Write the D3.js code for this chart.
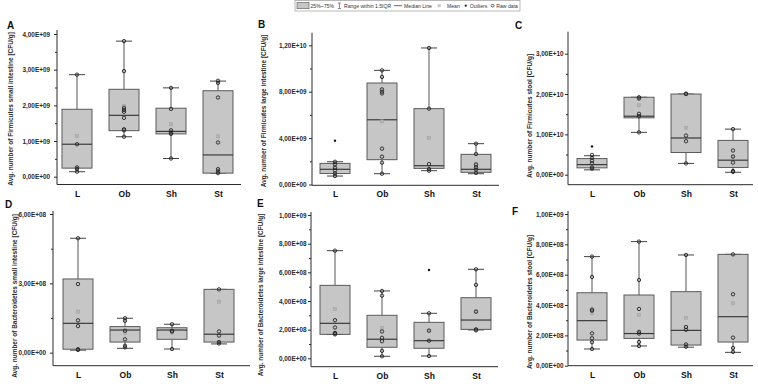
<!DOCTYPE html>
<html><head><meta charset="utf-8">
<script src="https://cdn.jsdelivr.net/npm/d3@7"></script>
<style>
body{margin:0;background:#fff}
svg{display:block;font-family:"Liberation Sans",Arial,Helvetica,sans-serif}
</style>
</head><body>
<svg id="chart" width="758" height="384"></svg>
<script>
const categories = ["L", "Ob", "Sh", "St"];

// box statistics per category: [whiskerLow, q1, median, q3, whiskerHigh, mean]
const firmSmallStats = [[0.14e9,0.24e9,0.91e9,1.89e9,2.86e9,1.14e9],[1.12e9,1.29e9,1.72e9,2.45e9,3.80e9,1.98e9],[0.51e9,1.20e9,1.27e9,1.92e9,2.49e9,1.47e9],[0.10e9,0.10e9,0.61e9,2.41e9,2.68e9,1.13e9]];
const firmSmallRaw = [[2.86e9,0.91e9,0.26e9,0.22e9,0.14e9],[3.80e9,2.96e9,1.93e9,1.87e9,1.82e9,1.65e9,1.33e9,1.30e9,1.12e9],[2.49e9,1.90e9,1.30e9,1.24e9,1.20e9,0.51e9],[2.69e9,2.63e9,2.22e9,0.96e9,0.21e9,0.15e9,0.10e9]];
const firmSmallOut = [[],[],[],[]];

const firmLargeStats = [[0.73e9,0.95e9,1.31e9,1.82e9,1.96e9,1.60e9],[0.93e9,2.14e9,5.58e9,8.75e9,9.84e9,5.44e9],[1.19e9,1.39e9,1.62e9,6.54e9,11.77e9,4.01e9],[0.93e9,1.05e9,1.31e9,2.60e9,3.52e9,1.75e9]];
const firmLargeRaw = [[1.96e9,1.73e9,1.44e9,1.21e9,0.95e9,0.73e9],[9.84e9,9.27e9,8.20e9,8.00e9,7.85e9,3.09e9,2.40e9,1.88e9,0.93e9],[11.77e9,6.54e9,1.76e9,1.33e9,1.19e9],[3.52e9,2.63e9,1.72e9,1.49e9,1.29e9,1.00e9]];
const firmLargeOut = [[3.78e9],[],[],[]];

const firmStoolStats = [[0.12e10,0.17e10,0.25e10,0.40e10,0.47e10,0.30e10],[1.05e10,1.41e10,1.45e10,1.92e10,1.92e10,1.72e10],[0.28e10,0.55e10,0.91e10,2.00e10,2.00e10,1.16e10],[0.06e10,0.18e10,0.36e10,0.85e10,1.13e10,0.45e10]];
const firmStoolRaw = [[0.49e10,0.42e10,0.35e10,0.28e10,0.18e10,0.15e10],[1.92e10,1.89e10,1.51e10,1.45e10,1.05e10],[2.01e10,2.00e10,0.97e10,0.83e10,0.28e10],[1.13e10,0.60e10,0.45e10,0.30e10,0.09e10,0.07e10]];
const firmStoolOut = [[0.70e10],[],[],[]];

const bactSmallStats = [[0.11e8,0.15e8,1.27e8,3.19e8,4.95e8,1.78e8],[0.19e8,0.46e8,0.98e8,1.13e8,1.49e8,0.85e8],[0.16e8,0.58e8,0.98e8,1.08e8,1.23e8,0.85e8],[0.38e8,0.46e8,0.80e8,2.74e8,2.74e8,2.21e8]];
const bactSmallRaw = [[4.95e8,2.97e8,1.40e8,1.15e8,0.15e8,0.12e8],[1.49e8,1.38e8,0.95e8,0.58e8,0.30e8,0.23e8],[1.23e8,0.95e8,0.92e8,0.16e8],[2.74e8,0.92e8,0.74e8,0.46e8,0.40e8]];
const bactSmallOut = [[],[],[],[]];

const bactLargeStats = [[1.67e8,1.67e8,2.44e8,5.09e8,7.51e8,3.44e8],[0.14e8,0.77e8,1.33e8,3.00e8,4.70e8,2.10e8],[0.16e8,0.70e8,1.23e8,2.51e8,3.14e8,1.93e8],[1.98e8,2.02e8,2.67e8,4.23e8,6.21e8,3.30e8]];
const bactLargeRaw = [[7.51e8,2.66e8,2.15e8,1.77e8,1.74e8,1.67e8],[4.70e8,4.37e8,1.87e8,1.43e8,1.19e8,0.52e8,0.14e8],[3.14e8,1.93e8,1.23e8,0.16e8],[6.21e8,5.12e8,3.25e8,2.02e8,1.95e8]];
const bactLargeOut = [[],[],[6.16e8],[]];

const bactStoolStats = [[1.10e8,1.69e8,2.97e8,4.81e8,7.19e8,3.45e8],[1.30e8,1.80e8,2.12e8,4.66e8,8.18e8,3.34e8],[1.22e8,1.36e8,2.33e8,4.88e8,7.30e8,3.16e8],[0.88e8,1.56e8,3.23e8,7.34e8,7.34e8,4.11e8]];
const bactStoolRaw = [[7.19e8,5.85e8,3.70e8,3.63e8,2.13e8,1.81e8,1.55e8,1.10e8],[8.18e8,5.65e8,3.74e8,2.23e8,2.12e8,1.56e8,1.30e8],[7.30e8,2.55e8,2.37e8,1.40e8,1.25e8],[7.34e8,4.71e8,1.85e8,1.17e8,0.91e8]];
const bactStoolOut = [[],[],[],[]];

// axis tick values
const ticksA = [0,1e9,2e9,3e9,4e9];
const minorA = [0.5e9,1.5e9,2.5e9,3.5e9];
const ticksB = [0,4e9,8e9,1.2e10];
const minorB = [2e9,6e9,1e10];
const ticksC = [0,1e10,2e10,3e10];
const minorC = [0.5e10,1.5e10,2.5e10];
const ticksD = [0,3e8,6e8];
const minorD = [1.5e8,4.5e8];
const ticksE = [0,2e8,4e8,6e8,8e8,1e9];
const minorE = [1e8,3e8,5e8,7e8,9e8];
const ticksF = [0,2e8,4e8,6e8,8e8,1e9];
const minorF = [1e8,3e8,5e8,7e8,9e8];

const titles = [
  "Avg. number of Firmicutes small intestine [CFU/g]",
  "Avg. number of Firmicutes large intestine [CFU/g]",
  "Avg. number of Firmicutes stool [CFU/g]",
  "Avg. number of Bacteroidetes small intestine [CFU/g]",
  "Avg. number of Bacteroidetes large intestine [CFU/g]",
  "Avg. number of Bacteroidetes stool [CFU/g]"
];
const letters = ["A","B","C","D","E","F"];
const legendLabels = ["25%~75%","Range within 1.5IQR","Median Line","Mean","Outliers","Raw data"];

// layout (pixels)
const layout = [
  {yAxisX:57, zeroY:176.7, topTickY:34, axisTop:30, xAxisY:184.5, xEnd:241, firstX:77, pad:4, letterX:7, letterY:29, titleX:10, titleY:109},
  {yAxisX:312, zeroY:184.5, topTickY:45.3, axisTop:32.7, xAxisY:185.3, xEnd:499, firstX:335, pad:2.5, letterX:258, letterY:28, titleX:263, titleY:111},
  {yAxisX:568, zeroY:174.7, topTickY:53.7, axisTop:31.7, xAxisY:184.7, xEnd:753, firstX:592, pad:1.5, letterX:515, letterY:29, titleX:529, titleY:116},
  {yAxisX:53, zeroY:352.7, topTickY:214, axisTop:211, xAxisY:365.7, xEnd:250, firstX:78, pad:4, letterX:5, letterY:208, titleX:14, titleY:296},
  {yAxisX:311, zeroY:358.3, topTickY:215, axisTop:212, xAxisY:366.7, xEnd:498, firstX:335, pad:1.5, letterX:257, letterY:207, titleX:260, titleY:295},
  {yAxisX:568, zeroY:365.7, topTickY:214, axisTop:211, xAxisY:365.7, xEnd:753, firstX:592, pad:1.5, letterX:512, letterY:215, titleX:529, titleY:302}
];

const panels = [
  {stats:firmSmallStats, raw:firmSmallRaw, out:firmSmallOut, ticks:ticksA, minor:minorA},
  {stats:firmLargeStats, raw:firmLargeRaw, out:firmLargeOut, ticks:ticksB, minor:minorB},
  {stats:firmStoolStats, raw:firmStoolRaw, out:firmStoolOut, ticks:ticksC, minor:minorC},
  {stats:bactSmallStats, raw:bactSmallRaw, out:bactSmallOut, ticks:ticksD, minor:minorD},
  {stats:bactLargeStats, raw:bactLargeRaw, out:bactLargeOut, ticks:ticksE, minor:minorE},
  {stats:bactStoolStats, raw:bactStoolRaw, out:bactStoolOut, ticks:ticksF, minor:minorF}
];

function sci(v){
  if (v === 0) return "0,00E+00";
  const e = Math.floor(Math.log10(Math.abs(v)) + 1e-9);
  const m = v / Math.pow(10, e);
  return m.toFixed(2).replace(".", ",") + "E+" + String(e).padStart(2, "0");
}

const svg = d3.select("#chart");
const INK = "#2b2b2b";
const STEP = 47, BOXW = 30, CAPW = 16;

// common font size for the y titles, sized so title A spans ~154 px
const probe = svg.append("text").attr("font-size", 10).attr("font-weight", "bold").text(titles[0]);
const titleFont = 10 * 154 / probe.node().getComputedTextLength();
probe.remove();

panels.forEach((p, i) => {
  const L = layout[i];
  const g = svg.append("g");
  const top = p.ticks[p.ticks.length - 1];
  const y = d3.scaleLinear().domain([0, top]).range([L.zeroY, L.topTickY]);
  const x = d3.scalePoint().domain(categories).range([L.firstX, L.firstX + 3 * STEP]);

  const ya = g.append("g").attr("transform", `translate(${L.yAxisX},0)`)
    .call(d3.axisLeft(y).tickValues(p.ticks).tickSize(3).tickPadding(L.pad).tickFormat(sci));
  ya.select(".domain").remove();
  ya.selectAll("line").attr("stroke", INK);
  ya.selectAll("text").attr("font-size", 6.4).attr("font-weight", "bold").attr("fill", INK);
  const ym = g.append("g").attr("transform", `translate(${L.yAxisX},0)`)
    .call(d3.axisLeft(y).tickValues(p.minor).tickSize(2).tickFormat(""));
  ym.select(".domain").remove();
  ym.selectAll("line").attr("stroke", INK);
  g.append("line").attr("x1", L.yAxisX).attr("x2", L.yAxisX).attr("y1", L.axisTop).attr("y2", L.xAxisY)
    .attr("stroke", INK).attr("stroke-width", 1);

  const xa = g.append("g").attr("transform", `translate(0,${L.xAxisY})`)
    .call(d3.axisBottom(x).tickSize(0).tickPadding(6));
  xa.select(".domain").remove();
  xa.selectAll("text").attr("font-size", 8.5).attr("font-weight", "bold").attr("fill", "#111");
  g.append("line").attr("x1", L.yAxisX).attr("x2", L.xEnd).attr("y1", L.xAxisY).attr("y2", L.xAxisY)
    .attr("stroke", INK).attr("stroke-width", 1);

  categories.forEach((c, k) => {
    const [lo, q1, med, q3, hi, mean] = p.stats[k];
    const cx = x(c);
    const bg = g.append("g");
    bg.append("line").attr("x1", cx).attr("x2", cx).attr("y1", y(q3)).attr("y2", y(hi)).attr("stroke", "#555").attr("stroke-width", 1);
    bg.append("line").attr("x1", cx).attr("x2", cx).attr("y1", y(q1)).attr("y2", y(lo)).attr("stroke", "#555").attr("stroke-width", 1);
    bg.append("line").attr("x1", cx - CAPW/2).attr("x2", cx + CAPW/2).attr("y1", y(hi)).attr("y2", y(hi)).attr("stroke", "#444").attr("stroke-width", 1);
    bg.append("line").attr("x1", cx - CAPW/2).attr("x2", cx + CAPW/2).attr("y1", y(lo)).attr("y2", y(lo)).attr("stroke", "#444").attr("stroke-width", 1);
    bg.append("rect").attr("x", cx - BOXW/2).attr("width", BOXW)
      .attr("y", y(q3)).attr("height", Math.max(0.5, y(q1) - y(q3)))
      .attr("fill", "#c6c6c6").attr("stroke", "#5a5a5a").attr("stroke-width", 1);
    bg.append("line").attr("x1", cx - BOXW/2).attr("x2", cx + BOXW/2).attr("y1", y(med)).attr("y2", y(med))
      .attr("stroke", "#3a3a3a").attr("stroke-width", 1.2);
    bg.append("rect").attr("x", cx - 1.6).attr("y", y(mean) - 1.6).attr("width", 3.2).attr("height", 3.2)
      .attr("fill", "#b4b4b4").attr("stroke", "#a0a0a0").attr("stroke-width", 0.5);
    bg.selectAll("circle.raw").data(p.raw[k]).join("circle").attr("class", "raw")
      .attr("cx", cx).attr("cy", d => y(d)).attr("r", 1.7)
      .attr("fill", "none").attr("stroke", "#222").attr("stroke-width", 0.9);
    bg.selectAll("circle.out").data(p.out[k]).join("circle").attr("class", "out")
      .attr("cx", cx).attr("cy", d => y(d)).attr("r", 1.2).attr("fill", "#111");
  });

  svg.append("text").attr("transform", `translate(${L.titleX},${L.titleY}) rotate(-90)`)
    .attr("text-anchor", "middle").attr("dominant-baseline", "central")
    .attr("font-size", titleFont).attr("font-weight", "bold").attr("fill", INK).text(titles[i]);
  svg.append("text").attr("x", L.letterX).attr("y", L.letterY).text(letters[i])
    .attr("font-size", 10).attr("font-weight", "bold").attr("fill", "#111");
});

// legend: symbol/gap widths fixed, font sized so the row fills the frame
const lg = svg.append("g");
const lgLeft = 297, lgRight = 518, lgY = 5.7;
const gaps = 13.5 + 4 + 6 + 3 + 10 + 6 + 9 + 5 + 5 + 4 + 5;
let em = 0;
legendLabels.forEach(t => {
  const pr = lg.append("text").attr("font-size", 10).text(t);
  em += pr.node().getComputedTextLength() / 10;
  pr.remove();
});
const lgFont = Math.min(5.6, (lgRight - lgLeft - gaps) / em);
lg.append("rect").attr("x", 295).attr("y", 0.5).attr("width", 225).attr("height", 10.5)
  .attr("fill", "#fff").attr("stroke", "#9a9a9a").attr("stroke-width", 0.7);
let lx = lgLeft;
function lgText(t){
  const el = lg.append("text").attr("x", lx).attr("y", lgY).attr("dominant-baseline", "central")
    .attr("font-size", lgFont).attr("fill", "#333").text(t);
  lx += el.node().getComputedTextLength();
}
lg.append("rect").attr("x", lx).attr("y", 2.5).attr("width", 12).attr("height", 6.2).attr("fill", "#c6c6c6").attr("stroke", "#555").attr("stroke-width", 0.6);
lx += 13.5; lgText(legendLabels[0]); lx += 4;
lg.append("line").attr("x1", lx + 1.5).attr("x2", lx + 1.5).attr("y1", 3).attr("y2", 8.5).attr("stroke", "#444").attr("stroke-width", 0.6);
lg.append("line").attr("x1", lx).attr("x2", lx + 3).attr("y1", 3).attr("y2", 3).attr("stroke", "#444").attr("stroke-width", 0.6);
lg.append("line").attr("x1", lx).attr("x2", lx + 3).attr("y1", 8.5).attr("y2", 8.5).attr("stroke", "#444").attr("stroke-width", 0.6);
lx += 6; lgText(legendLabels[1]); lx += 3;
lg.append("line").attr("x1", lx).attr("x2", lx + 8).attr("y1", lgY).attr("y2", lgY).attr("stroke", "#444").attr("stroke-width", 0.8);
lx += 10; lgText(legendLabels[2]); lx += 6;
lg.append("rect").attr("x", lx).attr("y", lgY - 1.3).attr("width", 2.6).attr("height", 2.6).attr("fill", "#ccc").attr("stroke", "#bbb").attr("stroke-width", 0.4);
lx += 9; lgText(legendLabels[3]); lx += 5;
lg.append("circle").attr("cx", lx + 1).attr("cy", lgY).attr("r", 1.1).attr("fill", "#222");
lx += 5; lgText(legendLabels[4]); lx += 4;
lg.append("circle").attr("cx", lx + 1.3).attr("cy", lgY).attr("r", 1.4).attr("fill", "none").attr("stroke", "#222").attr("stroke-width", 0.7);
lx += 5; lgText(legendLabels[5]);
</script>
</body></html>
